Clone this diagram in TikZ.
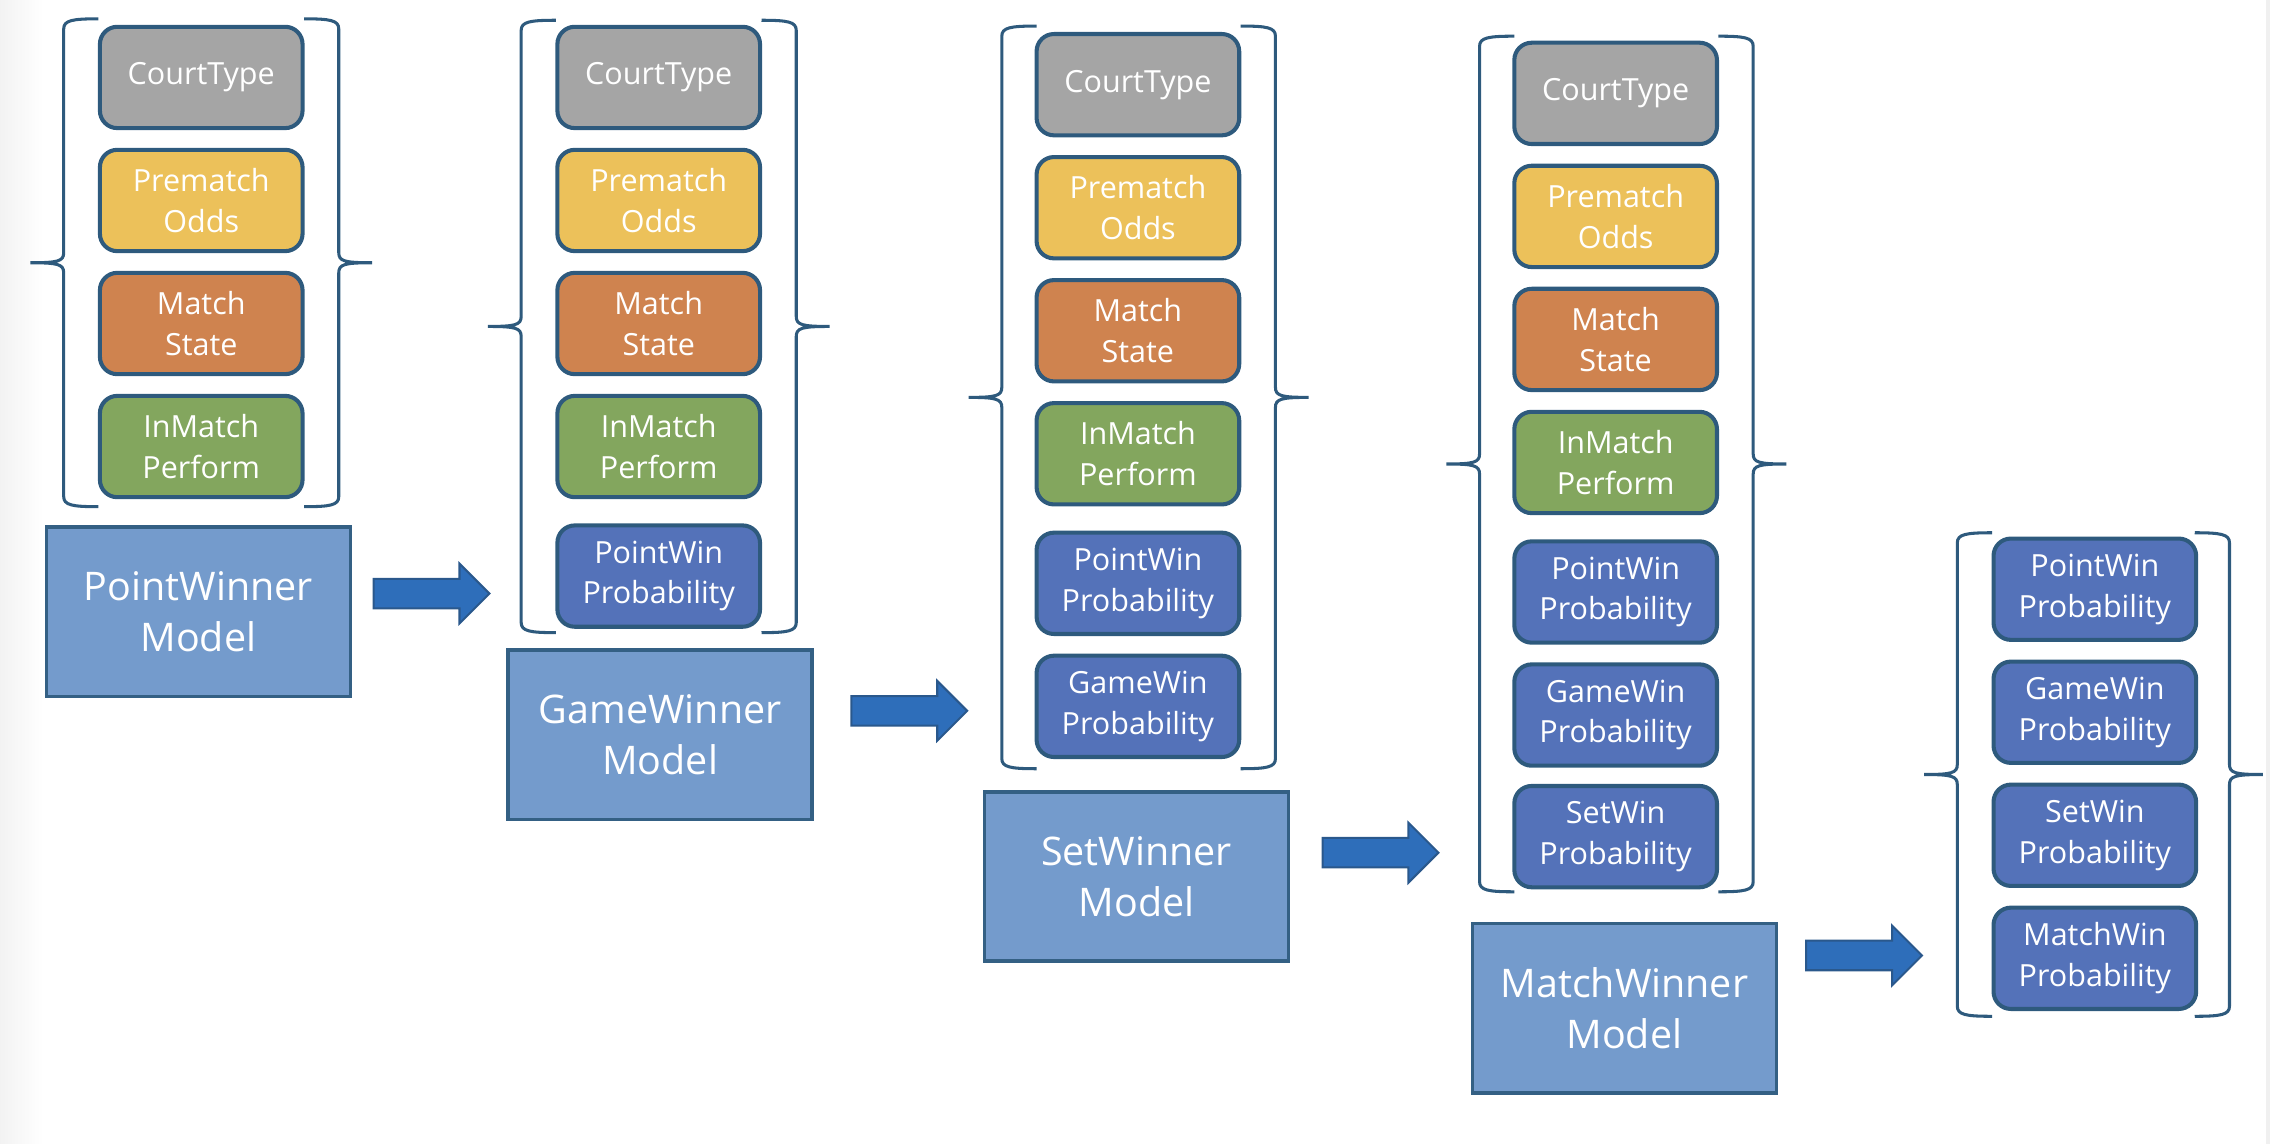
\documentclass[tikz,border=0pt]{standalone}
\usepackage{fontspec}
\setmainfont{Open Sans}
\usepackage{tikz}
\usetikzlibrary{shapes,arrows,positioning}
\usepackage{xcolor}
\definecolor{dfgray}{RGB}{165,165,165}
\definecolor{dfyellow}{RGB}{236,193,90}
\definecolor{dforange}{RGB}{207,131,79}
\definecolor{dfgreen}{RGB}{131,166,94}
\definecolor{dfprob}{RGB}{84,114,185}
\definecolor{dfborder}{RGB}{46,90,125}
\definecolor{dfmodel}{RGB}{116,155,204}
\definecolor{dfmodelborder}{RGB}{52,96,132}
\definecolor{dfarrow}{RGB}{46,110,186}
\definecolor{dfarrowborder}{RGB}{42,88,140}
\tikzstyle{feature} = [rectangle, rounded corners=0.24cm, minimum width=2.8cm, minimum height=1.4cm, text centered, align=center, draw=dfborder, line width=1.6pt, text=white, font=\fontsize{12}{16}\selectfont]
\tikzstyle{model} = [rectangle, minimum width=4.2cm, minimum height=2.34cm, text centered, align=center, draw=dfmodelborder, fill=dfmodel, line width=1.4pt, text=white, font=\fontsize{15.5}{20}\selectfont]
\tikzstyle{flow} = [single arrow, minimum height=1.6cm, single arrow head extend=0.21cm, single arrow head indent=0pt, inner sep=0.19cm, fill=dfarrow, draw=dfarrowborder, line width=0.8pt]
\tikzstyle{bracket} = [draw=dfborder, line width=1.2pt]
% braces round one group: left x, right x, top y, bottom y
\newcommand{\groupbrace}[4]{
\pgfmathsetmacro\bmid{(#3+#4)/2}
\draw[bracket] ({#1+24},#3) .. controls ({#1+6},#3) and (#1,{#3+1}) .. (#1,{#3+7})
  -- (#1,{\bmid-7}) .. controls (#1,{\bmid-1}) and ({#1-4},\bmid) .. ({#1-23},\bmid)
  .. controls ({#1-4},\bmid) and (#1,{\bmid+1}) .. (#1,{\bmid+7})
  -- (#1,{#4-7}) .. controls (#1,{#4-1}) and ({#1+6},#4) .. ({#1+24},#4);
\draw[bracket] ({#2-24},#3) .. controls ({#2-6},#3) and (#2,{#3+1}) .. (#2,{#3+7})
  -- (#2,{\bmid-7}) .. controls (#2,{\bmid-1}) and ({#2+4},\bmid) .. ({#2+23},\bmid)
  .. controls ({#2+4},\bmid) and (#2,{\bmid+1}) .. (#2,{\bmid+7})
  -- (#2,{#4-7}) .. controls (#2,{#4-1}) and ({#2-6},#4) .. ({#2-24},#4);
}

\begin{document}
\begin{tikzpicture}[x=0.02cm, y=-0.02cm, node distance=1.7cm]
\useasboundingbox (0,0) rectangle (1568,790);
\shade[left color=black!5, right color=white] (0,0) rectangle (30,790);
\fill[black!6] (1565,0) rectangle (1568,790);

% PointWinner
\node (ct1) [feature, fill=dfgray] at (139,53.5) {CourtType};
\node (po1) [feature, fill=dfyellow, below of=ct1] {Prematch\\Odds};
\node (ms1) [feature, fill=dforange, below of=po1] {Match\\State};
\node (ip1) [feature, fill=dfgreen, below of=ms1] {InMatch\\Perform};
\groupbrace{44}{234}{13}{350}
\node (pwm) [model] at (137,422.5) {PointWinner\\Model};

% GameWinner
\node (ct2) [feature, fill=dfgray] at (455,53.5) {CourtType};
\node (po2) [feature, fill=dfyellow, below of=ct2] {Prematch\\Odds};
\node (ms2) [feature, fill=dforange, below of=po2] {Match\\State};
\node (ip2) [feature, fill=dfgreen, below of=ms2] {InMatch\\Perform};
\node (pp2) [feature, fill=dfprob, below of=ip2, node distance=1.79cm] {PointWin\\Probability};
\groupbrace{360}{550}{14}{437}
\node (gwm) [model] at (456,507.5) {GameWinner\\Model};

% SetWinner
\node (ct3) [feature, fill=dfgray] at (786,58.5) {CourtType};
\node (po3) [feature, fill=dfyellow, below of=ct3] {Prematch\\Odds};
\node (ms3) [feature, fill=dforange, below of=po3] {Match\\State};
\node (ip3) [feature, fill=dfgreen, below of=ms3] {InMatch\\Perform};
\node (pp3) [feature, fill=dfprob, below of=ip3, node distance=1.79cm] {PointWin\\Probability};
\node (gp3) [feature, fill=dfprob, below of=pp3] {GameWin\\Probability};
\groupbrace{692}{881}{18}{531}
\node (swm) [model] at (785,605.5) {SetWinner\\Model};

% MatchWinner
\node (ct4) [feature, fill=dfgray] at (1116,64.5) {CourtType};
\node (po4) [feature, fill=dfyellow, below of=ct4] {Prematch\\Odds};
\node (ms4) [feature, fill=dforange, below of=po4] {Match\\State};
\node (ip4) [feature, fill=dfgreen, below of=ms4] {InMatch\\Perform};
\node (pp4) [feature, fill=dfprob, below of=ip4, node distance=1.79cm] {PointWin\\Probability};
\node (gp4) [feature, fill=dfprob, below of=pp4] {GameWin\\Probability};
\node (sp4) [feature, fill=dfprob, below of=gp4, node distance=1.68cm] {SetWin\\Probability};
\groupbrace{1022}{1211}{25}{616}
\node (mwm) [model] at (1122,696.5) {MatchWinner\\Model};

% Output
\node (pp5) [feature, fill=dfprob] at (1447,407) {PointWin\\Probability};
\node (gp5) [feature, fill=dfprob, below of=pp5] {GameWin\\Probability};
\node (sp5) [feature, fill=dfprob, below of=gp5] {SetWin\\Probability};
\node (mp5) [feature, fill=dfprob, below of=sp5] {MatchWin\\Probability};
\groupbrace{1352}{1540}{368}{702}

% block arrows
\node (arr1) [flow] at (293,410) {};
\node (arr2) [flow] at (623,491) {};
\node (arr3) [flow] at (948.5,589) {};
\node (arr4) [flow] at (1282.5,660) {};
\end{tikzpicture}
\end{document}
